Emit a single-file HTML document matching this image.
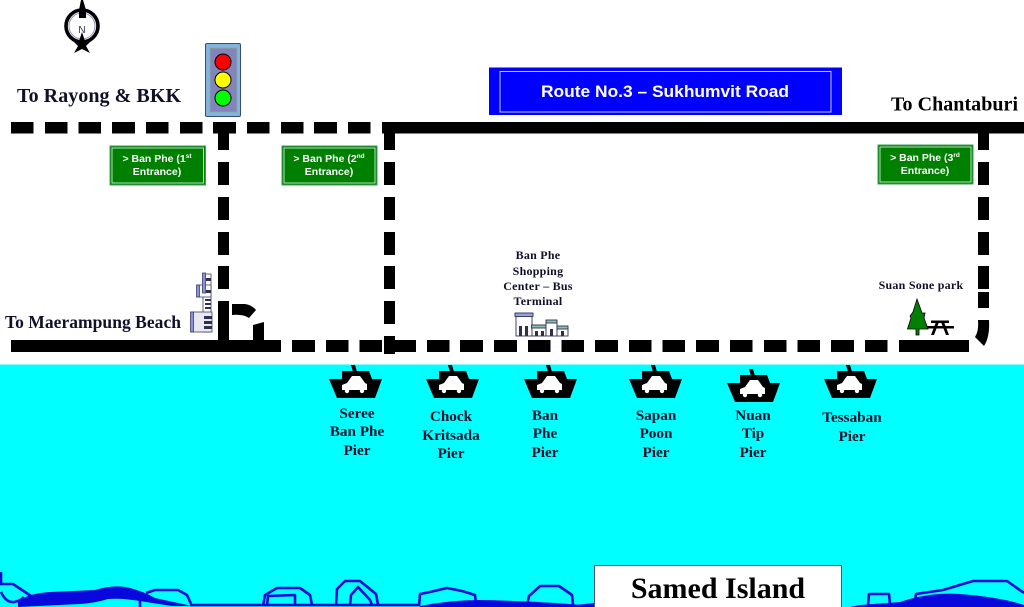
<!DOCTYPE html>
<html>
<head>
<meta charset="utf-8">
<title>Ban Phe piers map</title>
<style>
html,body{margin:0;padding:0;background:#fff;width:1024px;height:607px;overflow:hidden}
svg{display:block}
.s{font-family:"Liberation Serif",serif;font-weight:bold;fill:#10102a}
.a{font-family:"Liberation Sans",sans-serif;font-weight:bold;fill:#fff}
.m{text-anchor:middle}
</style>
</head>
<body>
<svg width="1024" height="607" viewBox="0 0 1024 607" xmlns="http://www.w3.org/2000/svg">
<defs>
<g id="ferry">
<path d="M-5 -15L-1 -15L1 -8L-3 -8Z" fill="#000"/>
<path d="M-27 -1L-14 -1L-14 -9L13 -9L16 -1L26 -1L19 18L-19 18Z" fill="#000"/>
<path d="M-15 5L-10 3L-5 -4L3 -4L8 3L10 4L10 10L-15 10Z" fill="#fff" transform="translate(1,0)"/>
<circle cx="-9" cy="11" r="2.2" fill="#fff"/>
<circle cx="6" cy="11" r="2.2" fill="#fff"/>
</g>
</defs>

<!-- sea -->
<rect x="0" y="364.5" width="1024" height="243" fill="#00ffff"/>

<!-- island outlines -->
<g fill="none" stroke="#0808dc" stroke-width="2.6" stroke-linejoin="round">
<path d="M1 572L1 584L13 584L31 596"/>
<path d="M1 592Q6 603 14 602Q20 601 24 597"/>
<path d="M146 593L155 590L178 590L187 595L191 604"/>
<path d="M140 600L140 607"/>
<path d="M263 606L265 595L277 588L300 588L310 595L312 605"/>
<path d="M267 606L268 596L295 595L295 605"/>
<path d="M336 605L337 589L345 581L360 581L376 594L378 605"/>
<path d="M350 605L351 595L358 587L370 600L372 605"/>
<path d="M419 606L420 594L430 592L447 588L462 591L475 595L476 604"/>
<path d="M527 605L529 596L540 586L559 586L572 595L573 605"/>
<path d="M190 605L420 605"/>
<path d="M868 605L869 594L889 594L890 605"/>
<path d="M915 601L916 594L943 590L973 581L1007 581L1024 593"/>
</g>
<path d="M18 601Q30 593 50 592L95 590Q115 584 130 588Q145 592 155 598L192 606L172 606L146 602Q125 598 108 599Q95 603 80 604L18 607Z" fill="#0808dc"/>
<path d="M420 606Q450 600 480 600Q540 601 594 606L594 607L420 607Z" fill="#0808dc"/>
<path d="M850 607L860 605L900 602Q930 592 960 594Q1000 597 1024 605L1024 607Z" fill="#0808dc"/>
<path d="M575 605L594 603L594 607L575 607Z" fill="#0808dc"/>

<!-- top road -->
<g fill="#000">
<rect x="11" y="122" width="22.5" height="11.5"/><rect x="45" y="122" width="22.5" height="11.5"/>
<rect x="78.5" y="122" width="22.5" height="11.5"/><rect x="112" y="122" width="23" height="11.5"/>
<rect x="146" y="122" width="22.5" height="11.5"/><rect x="180" y="122" width="22.5" height="11.5"/>
<rect x="213" y="122" width="23" height="11.5"/><rect x="247" y="122" width="22.5" height="11.5"/>
<rect x="281" y="122" width="22.5" height="11.5"/><rect x="314" y="122" width="23" height="11.5"/>
<rect x="348" y="122" width="22.5" height="11.5"/><rect x="382" y="122" width="642" height="11.5"/>

<!-- vertical 1 -->
<rect x="218" y="127" width="11" height="23"/><rect x="218" y="162" width="11" height="23"/>
<rect x="218" y="197" width="11" height="23"/><rect x="218" y="232" width="11" height="23"/>
<rect x="218" y="266" width="11" height="23"/><rect x="218" y="301" width="11" height="45"/>
<!-- vertical 2 -->
<rect x="384" y="127" width="11" height="23"/><rect x="384" y="162" width="11" height="23"/>
<rect x="384" y="197" width="11" height="23"/><rect x="384" y="232" width="11" height="23"/>
<rect x="384" y="266" width="11" height="23"/><rect x="384" y="301" width="11" height="23"/>
<rect x="384" y="336" width="11" height="18"/>
<!-- vertical 3 -->
<rect x="978" y="127" width="11" height="23"/><rect x="978" y="162" width="11" height="23"/>
<rect x="978" y="197" width="11" height="23"/><rect x="978" y="232" width="11" height="23"/>
<rect x="978" y="266" width="11" height="23"/><rect x="978" y="292" width="11" height="16"/>
<path d="M978 320L989 320Q990 337 984 346L975 337Q979 331 978 320Z"/>

<!-- bottom road -->
<rect x="11" y="340" width="270" height="12"/><rect x="292" y="340" width="23" height="12"/>
<rect x="326" y="340" width="22.5" height="12"/><rect x="359.5" y="340" width="22.5" height="12"/>
<rect x="393" y="340" width="23" height="12"/><rect x="427" y="340" width="22.5" height="12"/>
<rect x="460" y="340" width="23" height="12"/><rect x="494" y="340" width="23" height="12"/>
<rect x="528" y="340" width="22.5" height="12"/><rect x="561.5" y="340" width="22.5" height="12"/>
<rect x="595" y="340" width="23" height="12"/><rect x="629" y="340" width="22.5" height="12"/>
<rect x="662.5" y="340" width="22.5" height="12"/><rect x="696" y="340" width="23" height="12"/>
<rect x="730" y="340" width="22.5" height="12"/><rect x="764" y="340" width="22.5" height="12"/>
<rect x="797.5" y="340" width="22.5" height="12"/><rect x="831" y="340" width="23" height="12"/>
<rect x="865" y="340" width="22.5" height="12"/><rect x="899" y="340" width="70" height="12"/>

<!-- turn marks -->
<path d="M232 304L245 304Q252 305 256 310L249 318Q243 314 232 315Z"/>
<path d="M253 325L264 322L264 345L253 345Z"/>
</g>

<!-- compass -->
<circle cx="82" cy="26" r="16" fill="none" stroke="#000" stroke-width="3.6"/>
<circle cx="82" cy="26" r="13" fill="none" stroke="#9090c0" stroke-width="1"/>
<path d="M81 0L83 0L86 10L86 18L79 18L79 10Z" fill="#000"/>
<path d="M82 32L85 41L91 41L86 46L90 53L82 49L74 53L78 46L73 41L79 41Z" fill="#000"/>
<text x="82" y="33" font-family="Liberation Sans,sans-serif" font-size="10" text-anchor="middle" fill="#334">N</text>

<!-- traffic light -->
<rect x="205.5" y="43.5" width="35" height="73" rx="1.5" fill="#84b4dc" stroke="#384a78" stroke-width="1"/>
<rect x="210" y="48" width="27" height="64" fill="#8484bc" stroke="#80b090" stroke-width="0.8"/>
<circle cx="223" cy="62" r="8" fill="#ff0000" stroke="#000"/>
<circle cx="223" cy="80" r="8" fill="#ffff00" stroke="#000"/>
<circle cx="223" cy="98" r="8" fill="#00ff00" stroke="#000"/>

<!-- route sign -->
<rect x="489" y="67.5" width="353" height="47.5" fill="#0000ff"/>
<rect x="500" y="71.5" width="331" height="40.5" fill="none" stroke="#c8c8ff" stroke-width="1"/>
<text class="a" x="541" y="97" font-size="17" textLength="248" lengthAdjust="spacingAndGlyphs">Route No.3 – Sukhumvit Road</text>

<!-- green signs -->
<g>
<rect x="110" y="146" width="95.5" height="39" fill="#008000" stroke="#3aa05a" stroke-width="1"/>
<rect x="112" y="148" width="91.5" height="35" fill="none" stroke="#e8f8e8" stroke-width="0.8"/>
<text class="a m" x="157" y="162" font-size="10.5">&gt; Ban Phe (1<tspan font-size="6.5" dy="-4">st</tspan></text>
<text class="a m" x="157" y="175" font-size="10.5">Entrance)</text>

<rect x="282" y="146" width="95" height="39" fill="#008000" stroke="#3aa05a" stroke-width="1"/>
<rect x="284" y="148" width="91" height="35" fill="none" stroke="#e8f8e8" stroke-width="0.8"/>
<text class="a m" x="329" y="162" font-size="10.5">&gt; Ban Phe (2<tspan font-size="6.5" dy="-4">nd</tspan></text>
<text class="a m" x="329" y="175" font-size="10.5">Entrance)</text>

<rect x="878" y="145" width="95" height="39" fill="#008000" stroke="#3aa05a" stroke-width="1"/>
<rect x="880" y="147" width="91" height="35" fill="none" stroke="#e8f8e8" stroke-width="0.8"/>
<text class="a m" x="925" y="161" font-size="10.5">&gt; Ban Phe (3<tspan font-size="6.5" dy="-4">rd</tspan></text>
<text class="a m" x="925" y="174" font-size="10.5">Entrance)</text>
</g>

<!-- place labels -->
<text class="s" x="17" y="102" font-size="20" textLength="164">To Rayong &amp; BKK</text>
<text class="s" x="891" y="110.5" font-size="20" style="fill:#000" textLength="127">To Chantaburi</text>
<text class="s" x="5" y="328" font-size="17.5" textLength="176">To Maerampung Beach</text>

<g font-size="12" style="letter-spacing:.25px">
<text class="s m" x="538" y="259">Ban Phe</text>
<text class="s m" x="538" y="275">Shopping</text>
<text class="s m" x="538" y="290">Center – Bus</text>
<text class="s m" x="538" y="305">Terminal</text>
<text class="s m" x="921" y="289">Suan Sone park</text>
</g>

<!-- hotel building -->
<g stroke="#404060" stroke-width="0.8">
<rect x="203" y="274" width="8" height="58" fill="#fff"/>
<rect x="197" y="285" width="14" height="12" fill="#fff"/>
<rect x="191" y="312" width="21" height="20" fill="#e8e8f0"/>
<rect x="202.5" y="273" width="3" height="20" fill="#8890e8"/>
<rect x="196.5" y="285" width="3" height="12" fill="#8890e8"/>
<rect x="190.5" y="312" width="3" height="20" fill="#8890e8"/>
</g>
<g fill="#303050">
<rect x="206" y="278" width="5" height="3"/><rect x="206" y="290" width="5" height="3"/>
<rect x="205" y="299" width="6" height="2"/><rect x="205" y="303" width="6" height="2"/><rect x="205" y="307" width="6" height="2"/>
<rect x="204" y="316" width="8" height="3"/><rect x="204" y="321" width="8" height="3"/><rect x="204" y="326" width="8" height="3"/>
</g>

<!-- shopping centre -->
<g stroke="#303058" stroke-width="0.9">
<rect x="516" y="315" width="16" height="21" fill="#fff"/>
<rect x="515" y="313" width="18" height="3.5" fill="#8aa8d8"/>
<rect x="532" y="327" width="14" height="9" fill="#fff"/>
<rect x="531.5" y="325" width="15" height="3" fill="#8ac0b0"/>
<rect x="546" y="321" width="11" height="15" fill="#fff"/>
<rect x="546" y="320" width="11" height="3" fill="#8ac0b0"/>
<rect x="557" y="328" width="11" height="8" fill="#fff"/>
<rect x="557" y="326" width="11" height="3" fill="#8ac0b0"/>
</g>
<g fill="#303048">
<rect x="519" y="326" width="3" height="10"/><rect x="525" y="326" width="3" height="10"/>
<rect x="535" y="331" width="3" height="5"/><rect x="541" y="331" width="3" height="5"/>
<rect x="550" y="329" width="3" height="7"/><rect x="561" y="331" width="3" height="5"/>
</g>

<!-- park -->
<path d="M917 299L922 313L925 313L924 318L928 329L919 329L919 335L916 335L916 329L907.5 329L911 318L910 316L913 312Z" fill="#008000" stroke="#000" stroke-width="0.8"/>
<g fill="#000">
<rect x="931" y="320.5" width="18" height="2.5"/>
<rect x="927" y="326" width="27" height="2.5"/>
<path d="M936 322L939 322L934 335L931 335Z"/>
<path d="M944 322L941 322L946 335L949 335Z"/>
</g>

<!-- ferries -->
<use href="#ferry" x="356" y="380"/>
<use href="#ferry" x="453" y="380"/>
<use href="#ferry" x="551" y="380"/>
<use href="#ferry" x="656" y="380"/>
<use href="#ferry" x="754" y="384"/>
<use href="#ferry" x="851" y="380"/>

<!-- pier labels -->
<g font-size="15.2">
<text class="s m" x="357" y="418">Seree</text>
<text class="s m" x="357" y="436">Ban Phe</text>
<text class="s m" x="357" y="455">Pier</text>
<text class="s m" x="451" y="421">Chock</text>
<text class="s m" x="451" y="440">Kritsada</text>
<text class="s m" x="451" y="458">Pier</text>
<text class="s m" x="545" y="420">Ban</text>
<text class="s m" x="545" y="438">Phe</text>
<text class="s m" x="545" y="457">Pier</text>
<text class="s m" x="656" y="420">Sapan</text>
<text class="s m" x="656" y="438">Poon</text>
<text class="s m" x="656" y="457">Pier</text>
<text class="s m" x="753" y="420">Nuan</text>
<text class="s m" x="753" y="438">Tip</text>
<text class="s m" x="753" y="457">Pier</text>
<text class="s m" x="852" y="422">Tessaban</text>
<text class="s m" x="852" y="441">Pier</text>
</g>

<!-- island box -->
<rect x="594.5" y="565.5" width="247" height="44" fill="#fff" stroke="#50508a" stroke-width="1"/>
<text class="s m" x="718" y="598" font-size="30" style="fill:#000">Samed Island</text>
</svg>
</body>
</html>
